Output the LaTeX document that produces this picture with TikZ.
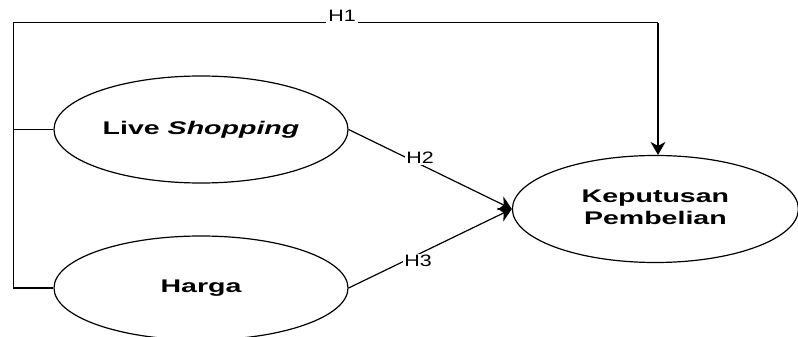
\documentclass[tikz,border=0pt]{standalone}
\usepackage{fontspec}
\setmainfont{Liberation Sans}
\usetikzlibrary{shapes.geometric,arrows.meta}

\tikzset{
  construct/.style={draw, ellipse, line width=1.2pt, fill=white, inner sep=0pt,
    minimum width=294pt, minimum height=107pt},
  link/.style={line width=1.2pt},
  arr/.style={line width=1.2pt, -{Stealth[length=13pt,width=15pt,inset=4pt]}},
  hyp/.style={fill=white, inner sep=1.5pt}
}
\newcommand{\bigtxt}[1]{\scalebox{1.56}[1]{\fontsize{18.3}{22.7}\selectfont\bfseries #1}}
\newcommand{\hyptxt}[1]{\scalebox{1.3}[1]{\fontsize{16.5}{18}\selectfont #1}}

\begin{document}
\begin{tikzpicture}[x=1pt,y=-1pt]
  \useasboundingbox (0,0) rectangle (798,337);

  % constructs
  \node[construct] (LS) at (201,129.5) {\bigtxt{Live \textit{Shopping}}};
  \node[construct, minimum height=104pt] (HG) at (201,288) {\bigtxt{Harga}};
  \node[construct, minimum width=286pt] (KP) at (655.4,209)
    {\bigtxt{\begin{tabular}{@{}c@{}}Keputusan\\Pembelian\end{tabular}}};

  % frame of the direct path H1
  \coordinate (TL) at (13.5,22.7);
  \coordinate (TR) at (658,22.7);
  \draw[link] (LS.west) -- (LS.west -| TL);
  \draw[link] (HG.west) -| (TL) -- (TR);
  \draw[arr] (TR) -- (KP.north -| TR);
  \node[hyp, inner sep=2pt] at (342,15.5) {\hyptxt{H1}};

  % paths H2 and H3
  \draw[arr] (LS.east) -- (KP.west);
  \draw[arr] (HG.east) -- (KP.west);
  \node[hyp] at (420,157.5) {\hyptxt{H2}};
  \node[hyp] at (418,261) {\hyptxt{H3}};
\end{tikzpicture}
\end{document}
